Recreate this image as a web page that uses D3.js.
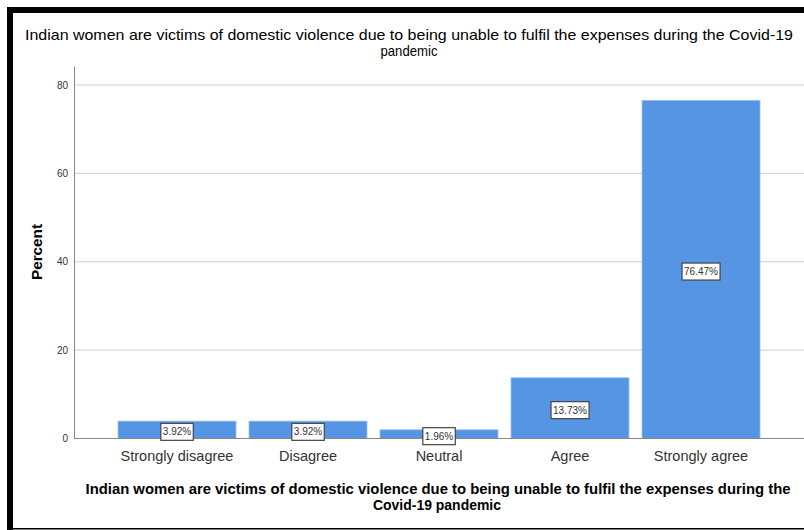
<!DOCTYPE html>
<html>
<head>
<meta charset="utf-8">
<script src="https://cdnjs.cloudflare.com/ajax/libs/d3/7.8.5/d3.min.js"></script>
<style>
  body { margin: 0; background: #fff; }
  svg { display: block; font-family: "Liberation Sans", Arial, sans-serif; }
</style>
</head>
<body>
<svg width="804" height="530"></svg>
<script>
const categories = ["Strongly disagree", "Disagree", "Neutral", "Agree", "Strongly agree"];
const percents = [3.92, 3.92, 1.96, 13.73, 76.47];
const yTicks = [0, 20, 40, 60, 80];
const titleLines = [
  "Indian women are victims of domestic violence due to being unable to fulfil the expenses during the Covid-19",
  "pandemic"
];
const xTitleLines = [
  "Indian women are victims of domestic violence due to being unable to fulfil the expenses during the",
  "Covid-19 pandemic"
];

const svg = d3.select("svg");

// frame (thick black on top and left, thin at bottom)
svg.append("rect").attr("x", 7).attr("y", 7).attr("width", 797).attr("height", 6).attr("fill", "#000");
svg.append("rect").attr("x", 7).attr("y", 7).attr("width", 6).attr("height", 523).attr("fill", "#000");
svg.append("rect").attr("x", 7).attr("y", 528).attr("width", 797).attr("height", 1.5).attr("fill", "#000");

const x = d3.scaleBand()
  .domain(categories)
  .range([111.5, 766.5])
  .paddingInner(0.1)
  .paddingOuter(0.05);

const y = d3.scaleLinear()
  .domain([0, 84.3])
  .range([438.5, 66]);

const axisX = 74, rightEdge = 804;

// gridlines
svg.append("g")
  .selectAll("line")
  .data(yTicks.filter(d => d > 0))
  .join("line")
  .attr("x1", axisX).attr("x2", rightEdge)
  .attr("y1", d => y(d)).attr("y2", d => y(d))
  .attr("stroke", "#cfcfcf").attr("stroke-width", 1);

// y axis
const gy = svg.append("g")
  .attr("transform", `translate(${axisX},0)`)
  .call(d3.axisLeft(y).tickValues(yTicks).tickSize(0).tickPadding(6));
gy.select(".domain").attr("stroke", "#888");
gy.selectAll("text").attr("font-size", 10).attr("fill", "#333")
  .attr("font-family", "Liberation Sans, Arial, sans-serif");

// bars
svg.append("g")
  .selectAll("rect")
  .data(percents)
  .join("rect")
  .attr("x", (d, i) => x(categories[i]))
  .attr("y", d => y(d))
  .attr("width", x.bandwidth())
  .attr("height", d => y(0) - y(d))
  .attr("fill", "#5595e3")
  .attr("stroke", "#8ab7ef").attr("stroke-width", 0.8);

// baseline
svg.append("line")
  .attr("x1", axisX).attr("x2", rightEdge)
  .attr("y1", y(0)).attr("y2", y(0))
  .attr("stroke", "#888").attr("stroke-width", 1);

// value labels in boxes
const lab = svg.append("g")
  .selectAll("g")
  .data(percents)
  .join("g")
  .attr("transform", (d, i) => {
    const cx = x(categories[i]) + x.bandwidth() / 2;
    const cy = (y(d) + y(0)) / 2 + 2;
    return `translate(${cx},${cy})`;
  });
lab.append("text")
  .attr("text-anchor", "middle")
  .attr("dy", "0.35em")
  .attr("font-size", 10)
  .attr("fill", "#333")
  .text(d => d.toFixed(2) + "%");
lab.each(function () {
  const g = d3.select(this);
  const bb = g.select("text").node().getBBox();
  g.insert("rect", "text")
    .attr("x", bb.x - 2).attr("y", -8.5)
    .attr("width", bb.width + 4).attr("height", 17)
    .attr("fill", "#fff").attr("stroke", "#444").attr("stroke-width", 1.2);
});

// category labels
svg.append("g")
  .selectAll("text")
  .data(categories)
  .join("text")
  .attr("x", d => x(d) + x.bandwidth() / 2)
  .attr("y", 461)
  .attr("text-anchor", "middle")
  .attr("font-size", 14.5)
  .attr("fill", "#333")
  .text(d => d);

// chart title
svg.append("text").attr("x", 409).attr("y", 40).attr("text-anchor", "middle")
  .attr("font-size", 15).attr("fill", "#000")
  .attr("textLength", 768).attr("lengthAdjust", "spacingAndGlyphs")
  .text(titleLines[0]);
svg.append("text").attr("x", 409).attr("y", 56).attr("text-anchor", "middle")
  .attr("font-size", 15).attr("fill", "#000")
  .attr("textLength", 57).attr("lengthAdjust", "spacingAndGlyphs")
  .text(titleLines[1]);

// x axis title
svg.append("text").attr("x", 438).attr("y", 494).attr("text-anchor", "middle")
  .attr("font-size", 15).attr("font-weight", "bold").attr("fill", "#000")
  .attr("textLength", 705).attr("lengthAdjust", "spacingAndGlyphs")
  .text(xTitleLines[0]);
svg.append("text").attr("x", 437).attr("y", 510).attr("text-anchor", "middle")
  .attr("font-size", 15).attr("font-weight", "bold").attr("fill", "#000")
  .attr("textLength", 128).attr("lengthAdjust", "spacingAndGlyphs")
  .text(xTitleLines[1]);

// y axis title
svg.append("text")
  .attr("transform", "translate(42,252) rotate(-90)")
  .attr("text-anchor", "middle")
  .attr("font-size", 15).attr("font-weight", "bold").attr("fill", "#000")
  .attr("textLength", 56).attr("lengthAdjust", "spacingAndGlyphs")
  .text("Percent");
</script>
</body>
</html>
